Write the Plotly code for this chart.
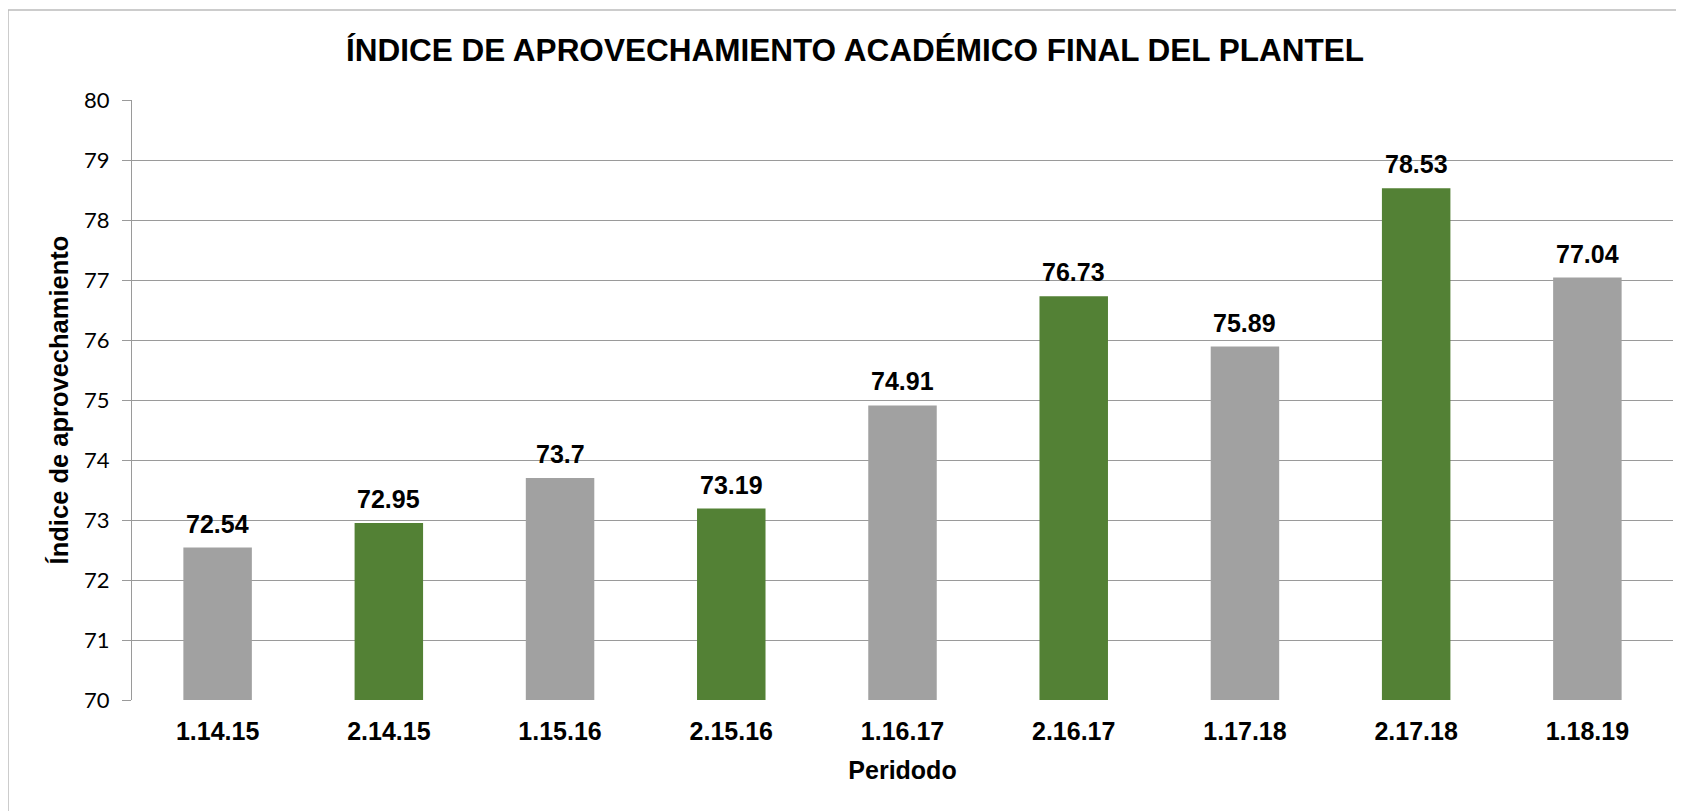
import plotly.graph_objects as go

categories = ["1.14.15", "2.14.15", "1.15.16", "2.15.16", "1.16.17",
              "2.16.17", "1.17.18", "2.17.18", "1.18.19"]
values = [72.54, 72.95, 73.7, 73.19, 74.91, 76.73, 75.89, 78.53, 77.04]
labels = ["72.54", "72.95", "73.7", "73.19", "74.91", "76.73", "75.89", "78.53", "77.04"]
y_ticks = [70, 71, 72, 73, 74, 75, 76, 77, 78, 79, 80]

GRAY = "#a1a1a1"
GREEN = "#538135"
colors = [GRAY if c.startswith("1.") else GREEN for c in categories]

BOLD = dict(family="Liberation Sans, Arial", color="#000000", weight="bold")

fig = go.Figure()
fig.add_trace(go.Bar(
    x=categories, y=values,
    marker=dict(color=colors, line=dict(width=0)),
    hoverinfo="x+y",
))

for c, v, t in zip(categories, values, labels):
    fig.add_annotation(x=c, y=v, text=t, showarrow=False, yanchor="bottom",
                       yshift=8, font=dict(size=25, **BOLD))

# outer chart border (only left and top edges fall inside the picture)
fig.add_shape(type="rect", xref="paper", yref="paper",
              x0=(0 - 124) / 1541, x1=1.03, y0=-0.35, y1=1 + 90 / 600,
              line=dict(color="#bcbcbc", width=1.5), fillcolor="rgba(0,0,0,0)", layer="below")

fig.update_layout(
    width=1684, height=811,
    margin=dict(l=124, r=19, t=92, b=119),
    paper_bgcolor="white", plot_bgcolor="white",
    bargap=0.6,
    showlegend=False,
    title=dict(text="ÍNDICE DE APROVECHAMIENTO ACADÉMICO FINAL DEL PLANTEL",
               x=847 / 1684, xanchor="center", y=1 - 42 / 811, yanchor="middle",
               font=dict(size=31.5, **BOLD)),
    xaxis=dict(
        type="category", showgrid=False, showline=False, ticks="",
        ticklabelstandoff=14,
        tickfont=dict(size=25, **BOLD),
        title=dict(text="Peridodo", standoff=17, font=dict(size=25, **BOLD)),
    ),
    yaxis=dict(
        range=[70, 80], tickvals=y_ticks, showgrid=True, gridcolor="#9a9a9a", gridwidth=1,
        showline=True, linecolor="#9a9a9a", linewidth=1,
        ticks="outside", ticklen=9, tickcolor="#9a9a9a",
        zeroline=False, ticklabelstandoff=8,
        tickfont=dict(family="Lato, Open Sans", size=22, color="#000000"),
        title=dict(text="Índice de aprovechamiento", standoff=8, font=dict(size=25.5, **BOLD)),
    ),
)

fig.write_html("out.html")
